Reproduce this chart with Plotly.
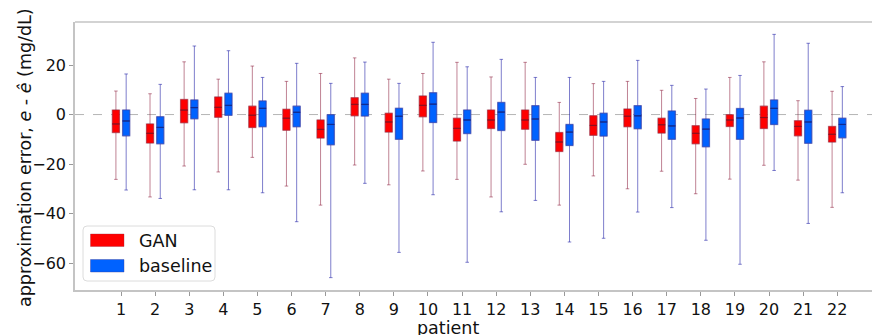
import plotly.graph_objects as go

patients = list(range(1, 23))
tick_labels = [str(p) for p in patients]

# GAN statistics (mg/dL)
gan_upper = [9.5, 8.4, 21.3, 14.3, 19.6, 13.4, 16.6, 22.9, 14.3, 16.6, 21.1, 15.2, 21.1, 4.9, 12.5, 13.4, 9.8, 6.5, 15.0, 21.3, 5.6, 9.4]
gan_q3 = [1.8, -3.8, 6.1, 7.1, 3.4, 2.1, -2.2, 6.8, 0.5, 7.5, -1.5, 1.8, 1.8, -7.3, -0.5, 2.2, -1.5, -4.5, -0.1, 3.4, -2.5, -4.8]
gan_median = [-3.8, -7.6, 1.8, 2.9, -0.3, -1.5, -6.0, 4.1, -3.0, 3.7, -5.6, -2.2, -2.2, -11.1, -4.4, -0.7, -4.1, -7.6, -2.2, -1.2, -4.8, -8.0]
gan_q1 = [-7.3, -11.5, -3.3, -1.1, -5.2, -6.3, -9.5, -0.5, -7.1, -0.9, -10.7, -5.6, -5.9, -14.9, -8.4, -4.9, -7.5, -11.8, -4.8, -5.6, -8.6, -11.1]
gan_lower = [-26.2, -33.3, -20.8, -23.2, -17.3, -28.9, -36.6, -20.4, -28.4, -22.8, -26.2, -33.3, -20.1, -36.6, -24.8, -30.0, -22.9, -32.0, -26.1, -20.5, -26.5, -37.5]

# baseline statistics (mg/dL)
base_upper = [16.4, 12.2, 27.7, 25.8, 15.0, 20.7, 12.6, 21.2, 12.6, 29.2, 19.3, 22.3, 15.0, 15.0, 13.4, 21.9, 11.8, 10.3, 15.8, 32.4, 28.8, 11.3]
base_q3 = [1.8, -0.9, 5.9, 8.6, 5.5, 3.4, -0.1, 8.6, 2.5, 8.8, 1.8, 4.9, 3.6, -4.0, 0.5, 3.6, 1.4, -1.8, 2.4, 5.9, 1.7, -1.5]
base_median = [-2.6, -5.2, 2.8, 3.7, 2.5, 0.9, -4.0, 4.1, -0.7, 4.2, -2.2, 1.0, -1.8, -7.1, -3.0, -0.5, -4.6, -5.9, -1.4, 2.5, -3.0, -4.0]
base_q1 = [-8.6, -11.8, -1.7, -0.3, -4.9, -4.9, -12.2, -0.6, -10.0, -3.2, -7.7, -6.4, -10.4, -12.5, -8.7, -5.7, -10.0, -13.0, -10.0, -4.0, -11.6, -9.4]
base_lower = [-30.5, -33.9, -30.4, -30.4, -31.6, -43.3, -65.9, -27.8, -55.7, -32.4, -59.7, -39.3, -34.7, -51.5, -50.0, -39.4, -37.6, -50.8, -60.5, -22.6, -44.0, -31.6]

series = [
    dict(name="GAN", group="gan", upper=gan_upper, q3=gan_q3, med=gan_median, q1=gan_q1, lower=gan_lower,
         fill="#ff0000", edge="rgba(150,40,60,0.35)", med_col="#8a1020", whisk="rgba(140,30,60,0.55)"),
    dict(name="baseline", group="base", upper=base_upper, q3=base_q3, med=base_median, q1=base_q1, lower=base_lower,
         fill="#0062ff", edge="rgba(60,60,150,0.4)", med_col="#10288a", whisk="rgba(40,40,170,0.6)"),
]

fig = go.Figure()
for s in series:
    # whiskers layer
    fig.add_trace(go.Box(
        x=patients, q1=s["q1"], median=s["med"], q3=s["q3"],
        lowerfence=s["lower"], upperfence=s["upper"],
        name=s["name"], offsetgroup=s["group"], showlegend=False,
        fillcolor="rgba(0,0,0,0)", line=dict(color=s["whisk"], width=1),
        whiskerwidth=0.5, boxpoints=False, hoverinfo="skip",
    ))
    # filled box layer
    fig.add_trace(go.Box(
        x=patients, q1=s["q1"], median=s["med"], q3=s["q3"],
        lowerfence=s["q1"], upperfence=s["q3"],
        name=s["name"], offsetgroup=s["group"], showlegend=False,
        fillcolor=s["fill"], line=dict(color=s["edge"], width=1.5),
        whiskerwidth=0, boxpoints=False,
    ))
    # median line layer
    fig.add_trace(go.Box(
        x=patients, q1=s["med"], median=s["med"], q3=s["med"],
        lowerfence=s["med"], upperfence=s["med"],
        name=s["name"], offsetgroup=s["group"], showlegend=False,
        fillcolor="rgba(0,0,0,0)", line=dict(color=s["med_col"], width=0.6),
        whiskerwidth=0, boxpoints=False, hoverinfo="skip",
    ))

W, H = 872, 335
L, R, T, B = 75, 0, 22, 45
pw, ph = W - L - R, H - T - B


def px(xp):
    return (xp - L) / pw


def py(yp):
    return (H - B - yp) / ph


shapes = [
    dict(type="line", xref="paper", yref="y", x0=0, x1=1, y0=0, y1=0,
         line=dict(color="#b5b5b5", width=1, dash="dash"), layer="below"),
    dict(type="line", xref="paper", yref="paper", x0=0, x1=1, y0=1, y1=1,
         line=dict(color="#c4c4c4", width=1.5)),
]

# legend frame (rounded)
lx0, lx1, ly0, ly1, r = px(83), px(215), py(281), py(226), 4
rx, ry = r / pw, r / ph
path = (f"M{lx0+rx},{ly0} L{lx1-rx},{ly0} Q{lx1},{ly0} {lx1},{ly0+ry} "
        f"L{lx1},{ly1-ry} Q{lx1},{ly1} {lx1-rx},{ly1} L{lx0+rx},{ly1} "
        f"Q{lx0},{ly1} {lx0},{ly1-ry} L{lx0},{ly0+ry} Q{lx0},{ly0} {lx0+rx},{ly0} Z")
shapes.append(dict(type="path", xref="paper", yref="paper", path=path,
                   fillcolor="rgba(255,255,255,0.85)", line=dict(color="#dcdcdc", width=1)))
annotations = []
for s, (y_top, y_bot, y_txt) in zip(series, [(234, 246.5, 240.5), (259.5, 272, 265.5)]):
    shapes.append(dict(type="rect", xref="paper", yref="paper",
                       x0=px(90.5), x1=px(124), y0=py(y_bot), y1=py(y_top),
                       fillcolor=s["fill"], line=dict(color=s["edge"], width=1)))
    annotations.append(dict(xref="paper", yref="paper", x=px(137), y=py(y_txt), text=s["name"],
                            showarrow=False, xanchor="left", yanchor="middle",
                            font=dict(size=17.5, color="#111111")))

annotations.append(dict(xref="paper", yref="paper", x=px(448), y=py(327.5), text="patient",
                        showarrow=False, xanchor="center", yanchor="middle",
                        font=dict(size=17.5, color="#111111")))
annotations.append(dict(xref="paper", yref="paper", x=px(25), y=py(158), textangle=-90,
                        text="approximation error, <i>e</i> - <i>ê</i> (mg/dL)",
                        showarrow=False, xanchor="center", yanchor="middle",
                        font=dict(size=17.5, color="#111111")))

fig.update_layout(
    width=W, height=H,
    margin=dict(l=L, r=R, t=T, b=B, autoexpand=False),
    paper_bgcolor="white", plot_bgcolor="white",
    boxmode="group", boxgap=0.4, boxgroupgap=0.31,
    font=dict(family="DejaVu Sans", size=16, color="#111111"),
    showlegend=False,
    shapes=shapes, annotations=annotations,
)
fig.update_xaxes(
    range=[-0.35, 23.02], tickmode="array", tickvals=patients, ticktext=tick_labels,
    showgrid=False, zeroline=False, showline=True, linecolor="#c4c4c4", linewidth=1.5,
    ticks="outside", ticklen=4, tickcolor="#999999", tickwidth=1,
    tickfont=dict(size=16), automargin=False,
)
fig.update_yaxes(
    range=[-70.9, 37.4], tickvals=[-60, -40, -20, 0, 20],
    showgrid=False, zeroline=False, showline=True, linecolor="#c4c4c4", linewidth=1.5,
    ticks="outside", ticklen=4, tickcolor="#999999", tickwidth=1,
    tickfont=dict(size=16), automargin=False,
)

fig.write_html("out.html", config={"displayModeBar": False},
               post_script="document.body.style.margin='0';document.body.style.overflow='hidden';")
